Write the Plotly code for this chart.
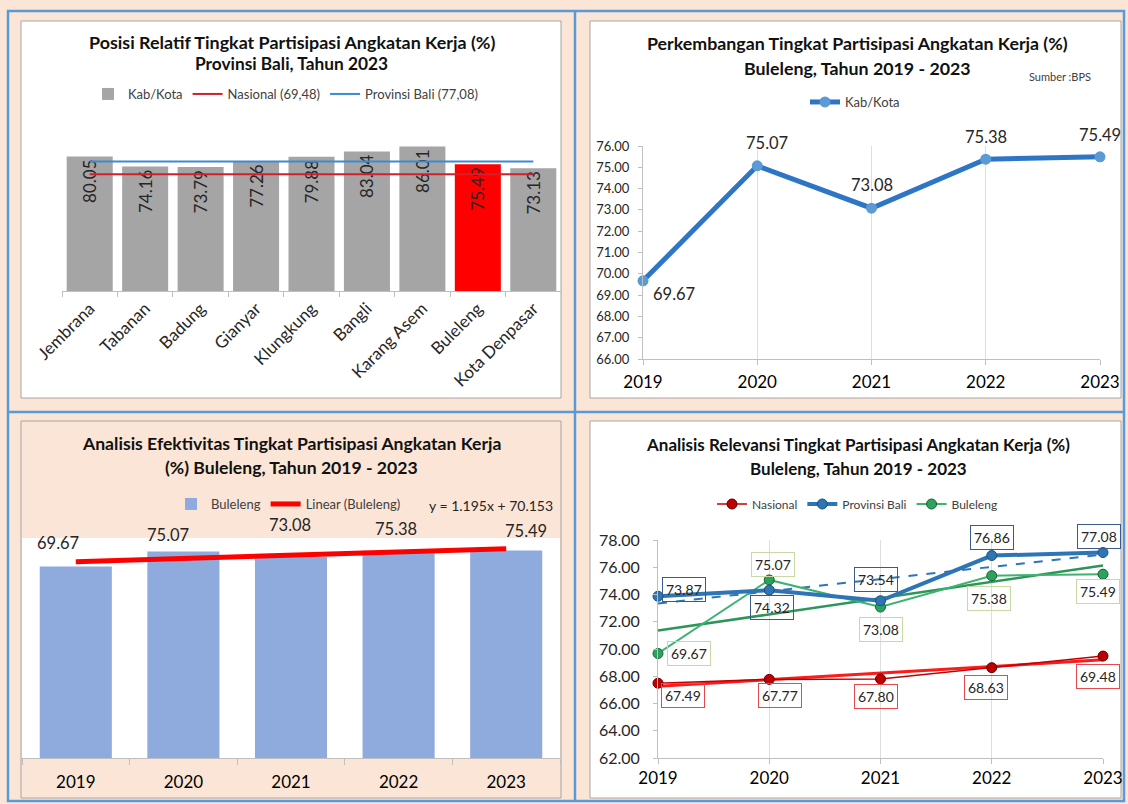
import numpy as np
import plotly.graph_objects as go

W, H = 1128, 804
PEACH = "#fbe5d6"
FRAME_BLUE = "#5b9bd5"
BOX_GREY = "#a6a6a6"
AXIS_GREY = "#bfbfbf"
GRID_GREY = "#dedede"
TXT = "#262626"
FONT = "Lato"

# ---------------- data ----------------
regions = ["Jembrana", "Tabanan", "Badung", "Gianyar", "Klungkung",
           "Bangli", "Karang Asem", "Buleleng", "Kota Denpasar"]
tpak_2023 = [80.05, 74.16, 73.79, 77.26, 79.88, 83.04, 86.01, 75.49, 73.13]
highlight_region = "Buleleng"
nasional_2023 = 69.48
bali_2023 = 77.08

years = [2019, 2020, 2021, 2022, 2023]
year_labels = ["2019", "2020", "2021", "2022", "2023"]
buleleng_tpak = [69.67, 75.07, 73.08, 75.38, 75.49]
bali_tpak = [73.87, 74.32, 73.54, 76.86, 77.08]
nasional_tpak = [67.49, 67.77, 67.80, 68.63, 69.48]

# label offsets (pixels, dx right, dy down) - style only
c2_shift = [(31, 13), (10, -23), (0, -23), (0, -22), (0, -22)]
c3_shift = [(-18, -23), (-15, -17), (-1, -32), (-3, -22), (20, -19)]
c4_nas_shift = [(25, 12), (11, 16), (-5, 18), (-6, 20), (-5, 20)]
c4_bali_shift = [(26, -7), (3, 17), (-5, -21), (0, -18), (-4, -16)]
c4_bul_shift = [(31, 0), (4, -15), (0, 22), (-3, 23), (-5, 17)]


def fx(p):
    return p / W


def fy(p):
    return 1 - p / H


def trend(vals):
    t = np.arange(1, len(vals) + 1)
    slope, intercept = np.polyfit(t, vals, 1)
    return slope, intercept, slope * t + intercept


fig = go.Figure()

# ---------------- chart 1 ----------------
bar_colors = ["#ff0000" if r == highlight_region else "#a5a5a5" for r in regions]
fig.add_trace(go.Bar(
    x=regions, y=tpak_2023, name="Kab/Kota", width=0.83,
    marker=dict(color=bar_colors, line=dict(width=0)),
    texttemplate="%{y:.2f}", textposition="inside", insidetextanchor="end",
    textangle=-90, insidetextfont=dict(family=FONT, size=17, color=TXT),
    xaxis="x", yaxis="y", legend="legend", hoverinfo="skip"))
fig.add_trace(go.Scatter(
    x=regions, y=[nasional_2023] * len(regions), mode="lines",
    name=f"Nasional ({nasional_2023:.2f})".replace(".", ","),
    line=dict(color="#d0202e", width=2), xaxis="x", yaxis="y", legend="legend"))
fig.add_trace(go.Scatter(
    x=regions, y=[bali_2023] * len(regions), mode="lines",
    name=f"Provinsi Bali ({bali_2023:.2f})".replace(".", ","),
    line=dict(color="#3a8bd3", width=2), xaxis="x", yaxis="y", legend="legend"))

# ---------------- chart 2 ----------------
fig.add_trace(go.Scatter(
    x=years, y=buleleng_tpak, mode="lines+markers", name="Kab/Kota",
    line=dict(color="#2e75c6", width=5), marker=dict(color="#5b9bd5", size=11),
    cliponaxis=False, xaxis="x2", yaxis="y2", legend="legend2"))

# ---------------- chart 3 ----------------
fig.add_trace(go.Bar(
    x=year_labels, y=buleleng_tpak, name="Buleleng", width=0.67,
    marker=dict(color="#8faadc", line=dict(width=0)),
    xaxis="x3", yaxis="y3", legend="legend3"))
s3, b3, tr3 = trend(buleleng_tpak)
fig.add_trace(go.Scatter(
    x=year_labels, y=tr3, mode="lines", name="Linear (Buleleng)",
    line=dict(color="#ff0000", width=5), xaxis="x3", yaxis="y3", legend="legend3"))

# ---------------- chart 4 ----------------
_, _, tr_nas = trend(nasional_tpak)
_, _, tr_bul = trend(buleleng_tpak)
_, _, tr_bali = trend(bali_tpak)
fig.add_trace(go.Scatter(x=years, y=tr_nas, mode="lines", showlegend=False,
                         line=dict(color="#ff1a1a", width=3), xaxis="x4", yaxis="y4"))
fig.add_trace(go.Scatter(x=years, y=tr_bul, mode="lines", showlegend=False,
                         line=dict(color="#2e9558", width=2.5), xaxis="x4", yaxis="y4"))
fig.add_trace(go.Scatter(x=years, y=tr_bali, mode="lines", showlegend=False,
                         line=dict(color="#2e75b6", width=2, dash="dash"), xaxis="x4", yaxis="y4"))
fig.add_trace(go.Scatter(
    x=years, y=nasional_tpak, mode="lines+markers", name="Nasional", legendrank=1,
    line=dict(color="#c00000", width=1.5),
    marker=dict(color="#c00000", size=10, line=dict(color="#5c0000", width=1)),
    cliponaxis=False, xaxis="x4", yaxis="y4", legend="legend4"))
fig.add_trace(go.Scatter(
    x=years, y=buleleng_tpak, mode="lines+markers", name="Buleleng", legendrank=3,
    line=dict(color="#3cb371", width=2),
    marker=dict(color="#2ca25f", size=10, line=dict(color="#1b5e30", width=1)),
    cliponaxis=False, xaxis="x4", yaxis="y4", legend="legend4"))
fig.add_trace(go.Scatter(
    x=years, y=bali_tpak, mode="lines+markers", name="Provinsi Bali", legendrank=2,
    line=dict(color="#2e75b6", width=4),
    marker=dict(color="#2e75b6", size=10, line=dict(color="#1f4e79", width=1)),
    cliponaxis=False, xaxis="x4", yaxis="y4", legend="legend4"))

# ---------------- shapes ----------------
shapes = []
for (x0, y0, x1, y1, fill) in [(21, 21, 561, 398, "white"), (590, 21, 1121, 398, "white"),
                               (21, 421, 561, 798, PEACH), (590, 421, 1121, 798, "white")]:
    shapes.append(dict(type="rect", xref="paper", yref="paper", layer="below",
                       x0=fx(x0), x1=fx(x1), y0=fy(y0), y1=fy(y1),
                       fillcolor=fill, line=dict(color=BOX_GREY, width=1)))
shapes.append(dict(type="rect", xref="x3 domain", yref="y3 domain", layer="below",
                   x0=0, x1=1, y0=0, y1=1, fillcolor="white", line=dict(width=0)))
shapes.append(dict(type="rect", xref="paper", yref="paper", layer="above",
                   x0=fx(8), x1=fx(1124), y0=fy(11), y1=fy(801),
                   line=dict(color=FRAME_BLUE, width=2.5)))
shapes.append(dict(type="line", xref="paper", yref="paper", layer="above",
                   x0=fx(575), x1=fx(575), y0=fy(11), y1=fy(801),
                   line=dict(color=FRAME_BLUE, width=2.5)))
shapes.append(dict(type="line", xref="paper", yref="paper", layer="above",
                   x0=fx(8), x1=fx(1124), y0=fy(412), y1=fy(412),
                   line=dict(color=FRAME_BLUE, width=2.5)))

# ---------------- annotations ----------------
ann = []


def title(text, xc, yc, size):
    ann.append(dict(text=f"<b>{text}</b>", xref="paper", yref="paper", x=fx(xc), y=fy(yc),
                    xanchor="center", yanchor="middle", showarrow=False,
                    font=dict(family=FONT, size=size, color="#111111")))


title("Posisi Relatif Tingkat Partisipasi Angkatan Kerja (%)", 292, 42, 17.9)
title("Provinsi Bali, Tahun 2023", 291, 63, 17.3)
title("Perkembangan Tingkat Partisipasi Angkatan Kerja (%)", 857, 43, 17.8)
title("Buleleng, Tahun 2019 - 2023", 857, 68, 17.8)
title("Analisis Efektivitas Tingkat Partisipasi Angkatan Kerja", 291, 443, 17.6)
title("(%) Buleleng, Tahun 2019 - 2023", 291, 467, 17.6)
title("Analisis Relevansi Tingkat Partisipasi Angkatan Kerja (%)", 858, 444, 17)
title("Buleleng, Tahun 2019 - 2023", 858, 468, 17)

ann.append(dict(text="Sumber :BPS", xref="paper", yref="paper", x=fx(1060), y=fy(76),
                xanchor="center", yanchor="middle", showarrow=False,
                font=dict(family=FONT, size=11, color="#404040")))
ann.append(dict(text=f"y = {s3:.3f}x + {b3:.3f}", xref="paper", yref="paper", x=fx(491), y=fy(505),
                xanchor="center", yanchor="middle", showarrow=False,
                font=dict(family=FONT, size=14, color=TXT)))

for yv, v, (dx, dy) in zip(years, buleleng_tpak, c2_shift):
    ann.append(dict(text=f"{v:.2f}", xref="x2", yref="y2", x=yv, y=v, xshift=dx, yshift=-dy,
                    xanchor="center", yanchor="middle", showarrow=False,
                    font=dict(family=FONT, size=16.5, color=TXT)))
# category axis: annotations use the category index
for idx, (v, (dx, dy)) in enumerate(zip(buleleng_tpak, c3_shift)):
    ann.append(dict(text=f"{v:.2f}", xref="x3", yref="y3", x=idx, y=v, xshift=dx, yshift=-dy,
                    xanchor="center", yanchor="middle", showarrow=False,
                    font=dict(family=FONT, size=16.5, color=TXT)))
for vals, shifts, bcol in [(nasional_tpak, c4_nas_shift, "#e8474d"),
                           (bali_tpak, c4_bali_shift, "#3b5a8c"),
                           (buleleng_tpak, c4_bul_shift, "#c9d9a4")]:
    for yv, v, (dx, dy) in zip(years, vals, shifts):
        ann.append(dict(text=f"{v:.2f}", xref="x4", yref="y4", x=yv, y=v, xshift=dx, yshift=-dy,
                        xanchor="center", yanchor="middle", showarrow=False,
                        bordercolor=bcol, borderwidth=1, borderpad=3,
                        font=dict(family=FONT, size=14, color=TXT)))

legend_common = dict(orientation="h", xanchor="left", yanchor="middle",
                     bgcolor="rgba(0,0,0,0)", borderwidth=0)

fig.update_layout(
    template="none",
    width=W, height=H, autosize=False,
    margin=dict(l=0, r=0, t=0, b=0, pad=0, autoexpand=False),
    paper_bgcolor=PEACH, plot_bgcolor="rgba(0,0,0,0)",
    font=dict(family=FONT, color=TXT),
    shapes=shapes, annotations=ann, hovermode=False,
    legend=dict(x=fx(88), y=fy(94), font=dict(size=13, color="#404040"), **legend_common),
    legend2=dict(x=fx(805), y=fy(102), font=dict(size=13, color="#404040"), **legend_common),
    legend3=dict(x=fx(171), y=fy(504), font=dict(size=13, color="#404040"), **legend_common),
    legend4=dict(x=fx(712), y=fy(504), font=dict(size=12, color="#404040"), **legend_common),
    xaxis=dict(domain=[fx(62), fx(561)], anchor="y", type="category", automargin=False,
               showline=True, linecolor=AXIS_GREY, ticks="outside", tickson="boundaries",
               ticklen=5, tickcolor=AXIS_GREY, tickangle=-45, showgrid=False,
               tickfont=dict(family=FONT, size=17, color=TXT)),
    yaxis=dict(domain=[fy(291), fy(123)], anchor="x", range=[0, 100], visible=False),
    xaxis2=dict(domain=[fx(643), fx(1100)], anchor="y2", range=[2019, 2023], automargin=False,
                tickvals=years, ticktext=year_labels, showline=True, linecolor=AXIS_GREY,
                ticks="outside", ticklen=5, tickcolor=AXIS_GREY, showgrid=True,
                gridcolor=GRID_GREY, zeroline=False, ticklabelstandoff=3,
                tickfont=dict(family=FONT, size=17, color="#000000")),
    yaxis2=dict(domain=[fy(359), fy(146)], anchor="x2", range=[66, 76], dtick=1, automargin=False,
                tickformat=".2f", showline=True, linecolor=AXIS_GREY, ticks="outside",
                ticklen=4, tickcolor=AXIS_GREY, showgrid=False, zeroline=False,
                ticklabelstandoff=6,
                tickfont=dict(family=FONT, size=13, color=TXT)),
    xaxis3=dict(domain=[fx(22), fx(560)], anchor="y3", type="category", automargin=False,
                range=[-0.5, 4.5],
                showline=True, linecolor=AXIS_GREY, ticks="outside", tickson="boundaries",
                ticklen=6, tickcolor=AXIS_GREY, showgrid=False, tickangle=0,
                ticklabelstandoff=9,
                tickfont=dict(family=FONT, size=17, color="#000000")),
    yaxis3=dict(domain=[fy(758), fy(538)], anchor="x3", range=[0, 80], visible=False),
    xaxis4=dict(domain=[fx(658), fx(1103)], anchor="y4", range=[2019, 2023], automargin=False,
                tickvals=years, ticktext=year_labels, showline=True, linecolor=AXIS_GREY,
                ticks="outside", ticklen=5, tickcolor=AXIS_GREY, showgrid=True,
                gridcolor=GRID_GREY, zeroline=False,
                tickfont=dict(family=FONT, size=17, color="#000000")),
    yaxis4=dict(domain=[fy(758), fy(540)], anchor="x4", range=[62, 78], dtick=2, automargin=False,
                tickformat=".2f", showline=True, linecolor=AXIS_GREY, ticks="outside",
                ticklen=4, tickcolor=AXIS_GREY, showgrid=False, zeroline=False,
                ticklabelstandoff=10,
                tickfont=dict(family=FONT, size=16, color=TXT)),
)

fig.write_html("out.html", config={"displayModeBar": False},
               post_script="document.body.style.margin='0px';")
